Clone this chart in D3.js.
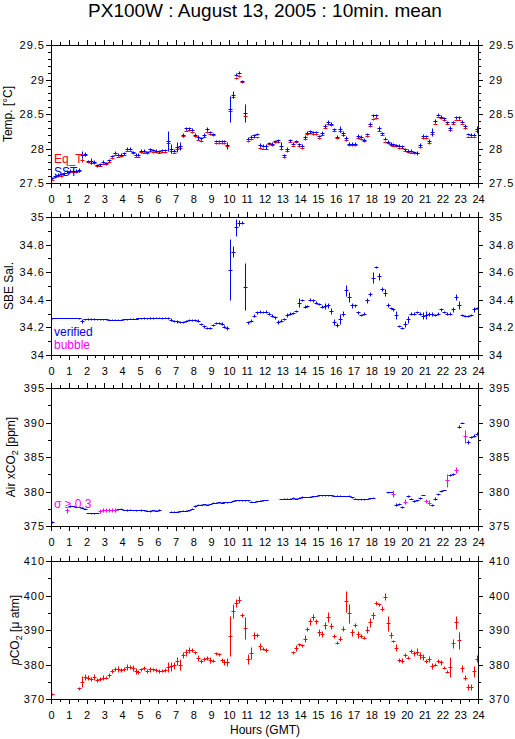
<!DOCTYPE html>
<html lang="en">

<head>
    <meta charset="UTF-8">
    <title>PX100W : August 13, 2005 : 10min. mean</title>
    <script src="https://d3js.org/d3.v7.min.js"></script>
    <style>
        body { margin: 0; background: #fff; }
        svg { display: block; font-family: "Liberation Sans", Arial, sans-serif; }
    </style>
</head>

<body>
    <div class="chart"></div>

    <script>
        // 10-minute means, one value per bin (144 bins), null = no data
        const hourTicks = d3.range(0, 25);
        const halfHourTicks = d3.range(0.5, 24, 1);

        const tempTicks = [27.5, 28, 28.5, 29, 29.5];
        const salTicks = [34, 34.2, 34.4, 34.6, 34.8, 35];
        const airTicks = [375, 380, 385, 390, 395];
        const pco2Ticks = [370, 380, 390, 400, 410];

        const eqT = [
            27.55, 27.58, 27.60, 27.60, 27.62, 27.65, 27.66, 27.66, 27.66, 27.67, 27.83, 27.90,
            27.80, 27.79, 27.79, 27.74, 27.75, 27.78, 27.77, 27.81, 27.86, 27.91, 27.88, 27.89,
            27.91, 27.97, 27.97, 27.93, 27.88, 27.88, 27.95, 27.94, 27.93, 27.96, 27.95, 27.95,
            27.94, 27.95, 27.95, 28.08, 27.96, 27.94, 27.99, 28.01, 28.18, 28.26, 28.27, 28.24,
            28.18, 28.13, 28.11, 28.17, 28.24, 28.21, 28.19, 28.08, 28.08, 28.08, 28.08, 28.03,
            28.55, 28.75, 29.02, 29.05, 28.96, 28.47, 28.11, 28.14, 28.16, 28.16, 28.01, 28.00,
            28.00, 28.06, 28.05, 28.09, 28.09, 28.00, 27.87, 27.96, 28.10, 28.04, 28.09, 28.03,
            28.01, 28.14, 28.21, 28.22, 28.21, 28.21, 28.15, 28.20, 28.30, 28.35, 28.34, 28.26,
            28.15, 28.26, 28.19, 28.12, 28.05, 28.05, 28.05, 28.15, 28.14, 28.11, 28.18, 28.32,
            28.43, 28.44, 28.26, 28.20, 28.10, 28.08, 28.05, 28.04, 28.03, 28.01, 28.01, 27.97,
            27.95, 27.94, 27.93, 27.93, 28.02, 28.15, 28.15, 28.08, 28.21, 28.36, 28.46, 28.44,
            28.41, 28.36, 28.27, 28.36, 28.42, 28.42, 28.36, 28.29, 28.17, 28.17, 28.17, 28.25
        ];
        const eqTSd = [
            0.01, 0.01, 0.01, 0.01, 0.01, 0.01, 0.01, 0.01, 0.01, 0.01, 0.03, 0.01,
            0.01, 0.01, 0.01, 0.01, 0.01, 0.01, 0.01, 0.01, 0.01, 0.01, 0.01, 0.01,
            0.01, 0.01, 0.01, 0.01, 0.01, 0.01, 0.01, 0.01, 0.01, 0.01, 0.01, 0.01,
            0.01, 0.01, 0.01, 0.03, 0.02, 0.01, 0.02, 0.02, 0.01, 0.01, 0.01, 0.01,
            0.01, 0.01, 0.01, 0.01, 0.01, 0.01, 0.01, 0.01, 0.01, 0.01, 0.01, 0.02,
            0.03, 0.02, 0.01, 0.01, 0.01, 0.03, 0.01, 0.01, 0.01, 0.01, 0.01, 0.01,
            0.01, 0.01, 0.01, 0.01, 0.01, 0.02, 0.01, 0.01, 0.01, 0.01, 0.01, 0.01,
            0.01, 0.01, 0.01, 0.01, 0.01, 0.01, 0.01, 0.01, 0.01, 0.01, 0.01, 0.01,
            0.01, 0.02, 0.01, 0.01, 0.01, 0.01, 0.01, 0.01, 0.01, 0.01, 0.01, 0.01,
            0.01, 0.01, 0.01, 0.01, 0.01, 0.01, 0.01, 0.01, 0.01, 0.01, 0.01, 0.01,
            0.01, 0.01, 0.01, 0.01, 0.01, 0.01, 0.01, 0.01, 0.02, 0.01, 0.01, 0.01,
            0.01, 0.01, 0.01, 0.01, 0.01, 0.01, 0.01, 0.01, 0.01, 0.01, 0.01, 0.02
        ];
        const sst = [
            27.57, 27.60, 27.62, 27.63, 27.64, 27.67, 27.68, 27.68, 27.68, 27.69, 27.91, 27.92,
            27.82, 27.82, 27.81, 27.76, 27.77, 27.81, 27.79, 27.83, 27.89, 27.94, 27.91, 27.91,
            27.93, 28.00, 28.00, 27.95, 27.91, 27.91, 27.97, 27.97, 27.95, 27.99, 27.98, 27.97,
            27.96, 27.98, 27.98, 28.11, 28.00, 27.97, 28.02, 28.04, 28.20, 28.29, 28.29, 28.27,
            28.20, 28.16, 28.15, 28.20, 28.28, 28.24, 28.21, 28.11, 28.11, 28.11, 28.11, 28.05,
            28.57, 28.78, 29.07, 29.10, 28.98, 28.52, 28.14, 28.17, 28.19, 28.21, 28.05, 28.04,
            28.03, 28.08, 28.07, 28.11, 28.12, 28.04, 27.90, 27.99, 28.12, 28.07, 28.11, 28.06,
            28.04, 28.17, 28.23, 28.25, 28.24, 28.24, 28.18, 28.23, 28.33, 28.39, 28.36, 28.28,
            28.17, 28.28, 28.22, 28.15, 28.07, 28.07, 28.07, 28.18, 28.17, 28.13, 28.21, 28.36,
            28.48, 28.48, 28.29, 28.22, 28.14, 28.10, 28.07, 28.06, 28.05, 28.04, 28.03, 27.99,
            27.97, 27.97, 27.95, 27.94, 28.05, 28.18, 28.18, 28.11, 28.24, 28.40, 28.49, 28.46,
            28.44, 28.38, 28.29, 28.38, 28.45, 28.45, 28.39, 28.32, 28.21, 28.20, 28.20, 28.28
        ];
        const sstSd = [
            0.015, 0.02, 0.02, 0.02, 0.02, 0.02, 0.02, 0.02, 0.02, 0.03, 0.05, 0.03,
            0.02, 0.04, 0.02, 0.02, 0.02, 0.02, 0.02, 0.02, 0.02, 0.02, 0.02, 0.02,
            0.02, 0.02, 0.02, 0.02, 0.02, 0.02, 0.02, 0.02, 0.02, 0.02, 0.02, 0.02,
            0.02, 0.02, 0.02, 0.15, 0.07, 0.02, 0.07, 0.06, 0.03, 0.02, 0.02, 0.02,
            0.02, 0.03, 0.02, 0.03, 0.03, 0.02, 0.02, 0.02, 0.02, 0.02, 0.02, 0.05,
            0.19, 0.05, 0.02, 0.02, 0.02, 0.13, 0.02, 0.02, 0.02, 0.02, 0.03, 0.02,
            0.03, 0.02, 0.02, 0.02, 0.02, 0.05, 0.02, 0.03, 0.02, 0.02, 0.02, 0.02,
            0.02, 0.03, 0.02, 0.02, 0.02, 0.02, 0.02, 0.03, 0.03, 0.03, 0.02, 0.02,
            0.02, 0.04, 0.04, 0.03, 0.02, 0.02, 0.02, 0.03, 0.02, 0.02, 0.02, 0.03,
            0.02, 0.02, 0.03, 0.02, 0.02, 0.02, 0.02, 0.02, 0.02, 0.02, 0.02, 0.02,
            0.02, 0.02, 0.02, 0.03, 0.03, 0.03, 0.02, 0.03, 0.06, 0.03, 0.02, 0.02,
            0.02, 0.02, 0.03, 0.02, 0.02, 0.02, 0.02, 0.03, 0.02, 0.02, 0.02, 0.04
        ];

        const sal = [
            34.266, 34.267, 34.267, 34.268, 34.268, 34.268, 34.268, 34.268, 34.267, 34.266, 34.245, 34.258,
            34.260, 34.262, 34.260, 34.260, 34.259, 34.258, 34.258, 34.256, 34.256, 34.257, 34.256, 34.257,
            34.258, 34.260, 34.263, 34.264, 34.263, 34.265, 34.266, 34.268, 34.266, 34.268, 34.268, 34.270,
            34.270, 34.270, 34.270, 34.270, 34.256, 34.247, 34.243, 34.240, 34.240, 34.248, 34.255, 34.256,
            34.255, 34.250, 34.225, 34.207, 34.193, 34.197, 34.220, 34.232, 34.234, 34.228, 34.205, 34.198,
            34.617, 34.750, 34.925, 34.956, 34.958, 34.496, 34.237, 34.248, 34.285, 34.310, 34.315, 34.310,
            34.315, 34.300, 34.285, 34.273, 34.240, 34.250, 34.260, 34.290, 34.300, 34.302, 34.320, 34.380,
            34.400, 34.350, 34.355, 34.400, 34.395, 34.380, 34.370, 34.350, 34.355, 34.360, 34.320, 34.240,
            34.218, 34.260, 34.300, 34.470, 34.420, 34.360, 34.360, 34.310, 34.290, 34.300, 34.395, 34.440,
            34.560, 34.640, 34.570, 34.480, 34.450, 34.360, 34.340, 34.330, 34.290, 34.210, 34.196, 34.225,
            34.260, 34.300, 34.300, 34.310, 34.300, 34.285, 34.290, 34.300, 34.300, 34.290, 34.300, 34.330,
            34.310, 34.300, 34.300, 34.330, 34.420, 34.360, 34.290, 34.285, 34.280, 34.290, 34.330, 34.340
        ];
        const salSd = [
            0.002, 0.002, 0.002, 0.002, 0.002, 0.002, 0.002, 0.002, 0.002, 0.002, 0.015, 0.006,
            0.005, 0.005, 0.005, 0.004, 0.004, 0.004, 0.004, 0.004, 0.004, 0.004, 0.004, 0.004,
            0.004, 0.004, 0.004, 0.004, 0.004, 0.006, 0.004, 0.004, 0.004, 0.006, 0.004, 0.004,
            0.004, 0.006, 0.004, 0.006, 0.012, 0.010, 0.008, 0.008, 0.008, 0.008, 0.008, 0.008,
            0.008, 0.010, 0.010, 0.010, 0.008, 0.008, 0.008, 0.008, 0.008, 0.008, 0.012, 0.014,
            0.220, 0.040, 0.060, 0.020, 0.010, 0.170, 0.012, 0.012, 0.010, 0.010, 0.008, 0.008,
            0.008, 0.010, 0.010, 0.012, 0.015, 0.010, 0.008, 0.015, 0.010, 0.008, 0.008, 0.030,
            0.008, 0.010, 0.010, 0.010, 0.008, 0.008, 0.008, 0.010, 0.020, 0.020, 0.020, 0.020,
            0.015, 0.035, 0.020, 0.040, 0.035, 0.020, 0.012, 0.010, 0.010, 0.012, 0.020, 0.015,
            0.040, 0.008, 0.025, 0.015, 0.025, 0.015, 0.008, 0.008, 0.030, 0.010, 0.010, 0.020,
            0.025, 0.010, 0.008, 0.008, 0.010, 0.025, 0.030, 0.015, 0.015, 0.010, 0.008, 0.010,
            0.008, 0.008, 0.008, 0.020, 0.020, 0.030, 0.010, 0.008, 0.008, 0.010, 0.015, 0.010
        ];

        const airCO2 = [
            375.6, null, null, null, null, 377.3, 377.9, 377.9, 377.8, 377.75, 377.65, 377.5,
            376.9, 376.85, 376.85, 376.9, 377.2, 377.3, 377.3, 377.3, 377.3, 377.3, 377.4, 377.5,
            377.3, 377.3, 377.35, 377.3, 377.25, 377.3, 377.3, 377.25, 377.2, 377.2, 377.25, 377.2,
            377.3, null, null, null, 377.1, 377.1, 377.1, 377.15, 377.2, 377.2, 377.25, 377.5,
            377.9, 378.1, 378.1, 378.15, 378.1, 378.2, 378.4, 378.4, 378.45, 378.4, 378.45, 378.45,
            378.5, 378.65, 378.7, 378.7, 378.7, 378.7, 378.7, 378.55, 378.5, 378.6, 378.65, 378.7,
            378.75, null, null, null, null, 378.9, 378.95, 378.95, 378.95, 379.0, 378.95, 379.1,
            379.15, 379.2, 379.2, 379.25, 379.3, 379.35, 379.45, 379.45, 379.45, 379.45, 379.45, 379.4,
            379.4, 379.4, 379.35, 379.35, 379.4, 379.15, 378.95, 378.85, 378.85, 378.85, 378.9, 379.0,
            379.1, null, null, null, null, 379.9, 379.95, 379.7, 378.1, 378.2, 377.8, 378.5,
            379.35, 378.95, 378.6, 378.7, 379.1, 379.5, 378.6, 378.4, 378.05, 378.95, 379.7, 380.1,
            380.2, 381.6, 382.4, 382.6, 383.1, 389.4, 390.0, 388.0, 387.2, 387.9, 388.1, 388.4
        ];
        const airSd = [
            0.1, 0, 0, 0, 0, 0.35, 0.1, 0.05, 0.05, 0.05, 0.05, 0.05,
            0.05, 0.05, 0.05, 0.05, 0.3, 0.3, 0.3, 0.3, 0.3, 0.3, 0.1, 0.05,
            0.05, 0.1, 0.05, 0.05, 0.1, 0.05, 0.1, 0.05, 0.05, 0.1, 0.05, 0.05,
            0.1, 0, 0, 0, 0.05, 0.05, 0.05, 0.05, 0.05, 0.05, 0.05, 0.05,
            0.1, 0.05, 0.05, 0.05, 0.05, 0.05, 0.05, 0.05, 0.05, 0.05, 0.05, 0.05,
            0.05, 0.05, 0.05, 0.05, 0.05, 0.05, 0.05, 0.05, 0.05, 0.05, 0.05, 0.05,
            0.05, 0, 0, 0, 0, 0.05, 0.05, 0.05, 0.05, 0.15, 0.05, 0.05,
            0.15, 0.05, 0.05, 0.05, 0.05, 0.05, 0.05, 0.05, 0.05, 0.05, 0.05, 0.05,
            0.05, 0.05, 0.05, 0.05, 0.05, 0.05, 0.05, 0.05, 0.05, 0.05, 0.05, 0.05,
            0.05, 0, 0, 0, 0, 0.1, 0.05, 0.45, 0.2, 0.2, 0.15, 0.35,
            0.1, 0.1, 0.1, 0.1, 0.15, 0.05, 0.3, 0.35, 0.2, 0.2, 0.15, 0.1,
            0.05, 0.9, 0.2, 0.15, 0.45, 0.2, 0.1, 0.9, 0.25, 0.2, 0.2, 0.2
        ];
        // bins flagged sigma >= 0.3
        const airFlagged = [5, 16, 17, 18, 19, 20, 21, 115, 119, 126, 127, 133, 136, 139];

        const pco2 = [
            371.4, null, null, null, null, null, null, null, null, 373.1, 375.0, 376.4,
            376.2, 375.9, 376.4, 375.5, 375.8, 376.2, 376.2, 376.9, 378.1, 378.7, 378.6, 378.4,
            378.6, 379.3, 379.3, 379.0, 378.1, 377.9, 378.6, 378.9, 378.1, 378.6, 378.6, 378.4,
            378.1, 378.2, 378.4, 379.3, 379.5, 379.8, 381.0, 380.0, 382.7, 383.5, 384.2, 384.2,
            383.5, 381.9, 381.0, 381.6, 381.9, 381.3, 381.1, 383.2, 382.9, 381.3, 380.8, 380.8,
            388.2, 395.4, 397.8, 398.8, 394.3, 390.7, 381.6, 383.4, 388.5, 388.6, 385.3, 384.6,
            384.2, null, null, null, null, null, null, null, null, 383.5, 384.8, 385.8,
            385.6, 387.5, 390.4, 392.5, 393.8, 392.5, 389.4, 388.8, 391.4, 393.8, 391.2, 388.2,
            386.3, 387.5, 390.4, 398.3, 394.8, 389.4, 391.4, 388.8, 388.3, 387.8, 390.1, 392.2,
            394.3, 397.8, 397.4, 396.2, 399.6, 391.9, 388.5, 386.8, 384.8, 381.3, 381.1, 382.7,
            382.0, 383.9, 383.2, 383.7, 382.7, 382.2, 381.1, 381.6, 379.6, 380.0, 381.0, 380.6,
            379.1, 377.9, 379.3, 386.1, 392.2, 387.0, 378.9, 376.2, 373.5, 373.5, 378.1, 381.7
        ];
        const pco2Sd = [
            0.3, 0, 0, 0, 0, 0, 0, 0, 0, 0.5, 1.6, 0.9,
            0.8, 0.6, 0.8, 0.5, 0.6, 0.8, 0.5, 0.6, 0.5, 0.6, 0.9, 0.6,
            0.6, 0.8, 0.6, 0.9, 0.8, 0.6, 0.5, 0.6, 0.5, 0.8, 0.5, 0.5,
            0.5, 0.5, 0.5, 1.4, 1.3, 1.0, 1.2, 1.6, 0.8, 1.0, 0.8, 0.5,
            0.5, 0.8, 0.6, 0.5, 0.5, 0.8, 0.5, 0.4, 0.5, 0.6, 0.8, 1.2,
            5.8, 2.0, 1.2, 1.0, 0.6, 3.2, 1.5, 1.7, 1.0, 0.6, 1.0, 0.5,
            0.5, 0, 0, 0, 0, 0, 0, 0, 0, 0.4, 0.8, 0.5,
            0.4, 1.0, 0.6, 1.0, 0.8, 0.8, 1.0, 0.8, 1.0, 1.4, 0.8, 0.6,
            0.5, 0.8, 0.8, 3.0, 2.7, 1.0, 0.6, 1.0, 0.5, 0.5, 1.0, 1.2,
            1.0, 0.5, 0.5, 0.8, 1.0, 2.2, 0.9, 0.4, 1.0, 0.5, 0.8, 0.6,
            0.5, 0.5, 0.7, 1.0, 1.0, 0.8, 0.6, 0.8, 0.8, 0.5, 0.5, 0.7,
            0.5, 0.5, 2.8, 1.2, 1.8, 2.4, 1.0, 0.8, 0.8, 0.8, 1.6, 1.0
        ];

        const RED = "#ff0000", BLUE = "#0000ff", MAGENTA = "#ff00ff";

        const w = 515, h = 739;
        const panelH = 138;

        const svg = d3.select(".chart")
            .append("svg")
            .attr("width", w)
            .attr("height", h);

        // shared time axis (hours GMT), d3 axis adds the 0.5 px offset itself
        const x = d3.scaleLinear().domain([0, 24]).range([51, 478]);
        const binCentre = i => i / 6 + 1 / 12;
        const snap = v => Math.round(v) + 0.5;

        // title
        svg.append("text")
            .attr("x", 265)
            .attr("y", 17)
            .attr("text-anchor", "middle")
            .attr("font-size", 19)
            .text("PX100W : August 13, 2005 : 10min. mean");

        const panels = [
            {
                top: 45, domain: [27.5, 29.5], ticks: tempTicks, minorStep: 0.1, titleX: 12,
                title: t => t.text("Temp. [°C]"),
                series: [
                    { values: eqT, sd: eqTSd, color: () => RED },
                    { values: sst, sd: sstSd, color: () => BLUE }
                ],
                legend: [
                    { text: "Eq_T", color: RED, y: 163 },
                    { text: "SST", color: BLUE, y: 176 }
                ]
            },
            {
                top: 217, domain: [34, 35], ticks: salTicks, minorStep: 0.1, titleX: 13,
                title: t => t.text("SBE Sal."),
                series: [{ values: sal, sd: salSd, color: () => BLUE }],
                legend: [
                    { text: "verified", color: BLUE, y: 336 },
                    { text: "bubble", color: MAGENTA, y: 349 }
                ]
            },
            {
                top: 388, domain: [375, 395], ticks: airTicks, minorStep: 2.5, titleX: 15,
                title: t => {
                    t.append("tspan").text("Air xCO");
                    t.append("tspan").attr("font-size", 9).attr("dy", 3).text("2");
                    t.append("tspan").attr("dy", -3).text(" [ppm]");
                },
                series: [{
                    values: airCO2, sd: airSd,
                    color: i => airFlagged.includes(i) ? MAGENTA : BLUE
                }],
                legend: [{ text: "σ ≥ 0.3", color: MAGENTA, y: 508 }]
            },
            {
                top: 561, domain: [370, 410], ticks: pco2Ticks, minorStep: 5, titleX: 19,
                title: t => {
                    t.append("tspan").attr("font-style", "italic").text("p");
                    t.append("tspan").text("CO");
                    t.append("tspan").attr("font-size", 9).attr("dy", 3).text("2");
                    t.append("tspan").attr("dy", -3).text(" [μ atm]");
                },
                series: [{ values: pco2, sd: pco2Sd, color: () => RED }],
                legend: []
            }
        ];

        panels.forEach((p, k) => {
            const bottom = p.top + panelH;
            const y = d3.scaleLinear().domain(p.domain).range([bottom, p.top]);
            const nMinor = Math.round((p.domain[1] - p.domain[0]) / p.minorStep);
            const minorTicks = d3.range(0, nMinor + 1).map(j => p.domain[0] + j * p.minorStep);

            const g = svg.append("g").attr("class", "panel");

            // frame
            g.append("rect")
                .attr("x", 51.5)
                .attr("y", p.top + 0.5)
                .attr("width", 427)
                .attr("height", panelH)
                .attr("fill", "none")
                .attr("stroke", "#000");

            // time axes, top and bottom
            const axes = [
                { axis: d3.axisBottom(x).tickValues(hourTicks).tickSize(5).tickPadding(7).tickFormat(d3.format("d")), at: bottom, cls: "hours" },
                { axis: d3.axisBottom(x).tickValues(halfHourTicks).tickSize(3).tickFormat(""), at: bottom },
                { axis: d3.axisTop(x).tickValues(hourTicks).tickSize(5).tickFormat(""), at: p.top },
                { axis: d3.axisTop(x).tickValues(halfHourTicks).tickSize(3).tickFormat(""), at: p.top }
            ];
            axes.forEach(a => {
                g.append("g")
                    .attr("class", a.cls || "minor")
                    .attr("transform", `translate(0,${a.at})`)
                    .call(a.axis.tickSizeOuter(0));
            });

            // value axes, left and right
            const fmt = d => String(+d.toFixed(2));
            g.append("g").attr("class", "ylab left")
                .attr("transform", "translate(51,0)")
                .call(d3.axisLeft(y).tickValues(p.ticks).tickSize(5).tickPadding(1).tickFormat(fmt).tickSizeOuter(0));
            g.append("g")
                .attr("transform", "translate(51,0)")
                .call(d3.axisLeft(y).tickValues(minorTicks).tickSize(3).tickFormat("").tickSizeOuter(0));
            g.append("g").attr("class", "ylab right")
                .attr("transform", "translate(478,0)")
                .call(d3.axisRight(y).tickValues(p.ticks).tickSize(5).tickPadding(6).tickFormat(fmt).tickSizeOuter(0));
            g.append("g")
                .attr("transform", "translate(478,0)")
                .call(d3.axisRight(y).tickValues(minorTicks).tickSize(3).tickFormat("").tickSizeOuter(0));

            // axis title
            const t = g.append("text")
                .attr("transform", `translate(${p.titleX},${p.top + panelH / 2}) rotate(-90)`)
                .attr("text-anchor", "middle")
                .attr("font-size", 12);
            p.title(t);

            // marks: horizontal bar over the 10-min bin, vertical bar = +/- sd
            const clipId = "clip" + k;
            g.append("clipPath").attr("id", clipId)
                .append("rect").attr("x", 52).attr("y", p.top + 1).attr("width", 426).attr("height", panelH - 1);
            const marks = g.append("g").attr("clip-path", `url(#${clipId})`);

            p.series.forEach(s => {
                const pts = s.values
                    .map((v, i) => ({ i, v, sd: s.sd[i] }))
                    .filter(d => d.v !== null);
                marks.append("g")
                    .selectAll("path")
                    .data(pts)
                    .join("path")
                    .attr("d", d => {
                        const cx = snap(x(binCentre(d.i)));
                        const cy = snap(y(d.v));
                        const y1 = Math.round(y(d.v + d.sd)) + 0.5;
                        const y2 = Math.round(y(d.v - d.sd)) + 0.5;
                        return `M${cx - 2},${cy}H${cx + 2}M${cx},${y1}V${y2}`;
                    })
                    .attr("fill", "none")
                    .attr("stroke", d => s.color(d.i))
                    .attr("stroke-width", 1);
            });

            // legend
            g.selectAll(".legend")
                .data(p.legend)
                .join("text")
                .attr("class", "legend")
                .attr("x", 54)
                .attr("y", d => d.y)
                .attr("font-size", 12)
                .attr("fill", d => d.color)
                .text(d => d.text);
        });

        // axis styling
        svg.selectAll(".domain").remove();
        svg.selectAll(".tick line").attr("stroke", "#000").attr("shape-rendering", "crispEdges");
        svg.selectAll("g.hours text")
            .attr("font-family", "'Liberation Sans', Arial, sans-serif")
            .attr("font-size", 11)
            .attr("fill", "#000");
        svg.selectAll("g.ylab text")
            .attr("font-family", "'Liberation Sans', Arial, sans-serif")
            .attr("font-size", 11)
            .attr("letter-spacing", 1)
            .attr("fill", "#000");
        svg.selectAll("rect").attr("shape-rendering", "crispEdges");

        // x axis title
        svg.append("text")
            .attr("x", 265)
            .attr("y", 734)
            .attr("text-anchor", "middle")
            .attr("font-size", 12)
            .text("Hours (GMT)");
    </script>
</body>

</html>
